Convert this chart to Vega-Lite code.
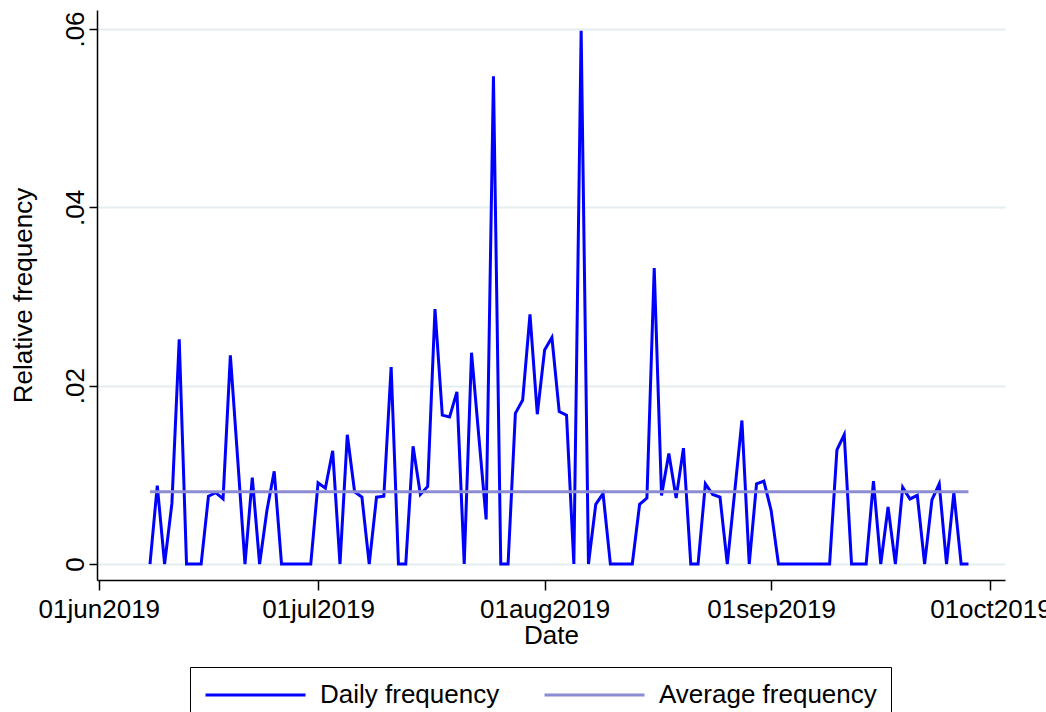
{
  "$schema": "https://vega.github.io/schema/vega-lite/v6.json",
  "width": 908,
  "height": 570,
  "autosize": "none",
  "padding": {"left": 97, "top": 10, "right": 41, "bottom": 132},
  "background": "white",
  "config": {"view": {"stroke": null}, "font": "Liberation Sans"},
  "data": {"values": [
    {"date": "2019-06-08", "value": 0, "series": "Daily frequency"},
    {"date": "2019-06-09", "value": 0.0088, "series": "Daily frequency"},
    {"date": "2019-06-10", "value": 0, "series": "Daily frequency"},
    {"date": "2019-06-11", "value": 0.0068, "series": "Daily frequency"},
    {"date": "2019-06-12", "value": 0.0252, "series": "Daily frequency"},
    {"date": "2019-06-13", "value": 0, "series": "Daily frequency"},
    {"date": "2019-06-14", "value": 0, "series": "Daily frequency"},
    {"date": "2019-06-15", "value": 0, "series": "Daily frequency"},
    {"date": "2019-06-16", "value": 0.0076, "series": "Daily frequency"},
    {"date": "2019-06-17", "value": 0.008, "series": "Daily frequency"},
    {"date": "2019-06-18", "value": 0.0073, "series": "Daily frequency"},
    {"date": "2019-06-19", "value": 0.0234, "series": "Daily frequency"},
    {"date": "2019-06-20", "value": 0.0118, "series": "Daily frequency"},
    {"date": "2019-06-21", "value": 0, "series": "Daily frequency"},
    {"date": "2019-06-22", "value": 0.0097, "series": "Daily frequency"},
    {"date": "2019-06-23", "value": 0, "series": "Daily frequency"},
    {"date": "2019-06-24", "value": 0.006, "series": "Daily frequency"},
    {"date": "2019-06-25", "value": 0.0104, "series": "Daily frequency"},
    {"date": "2019-06-26", "value": 0, "series": "Daily frequency"},
    {"date": "2019-06-27", "value": 0, "series": "Daily frequency"},
    {"date": "2019-06-28", "value": 0, "series": "Daily frequency"},
    {"date": "2019-06-29", "value": 0, "series": "Daily frequency"},
    {"date": "2019-06-30", "value": 0, "series": "Daily frequency"},
    {"date": "2019-07-01", "value": 0.0091, "series": "Daily frequency"},
    {"date": "2019-07-02", "value": 0.0085, "series": "Daily frequency"},
    {"date": "2019-07-03", "value": 0.0127, "series": "Daily frequency"},
    {"date": "2019-07-04", "value": 0, "series": "Daily frequency"},
    {"date": "2019-07-05", "value": 0.0145, "series": "Daily frequency"},
    {"date": "2019-07-06", "value": 0.0081, "series": "Daily frequency"},
    {"date": "2019-07-07", "value": 0.0075, "series": "Daily frequency"},
    {"date": "2019-07-08", "value": 0, "series": "Daily frequency"},
    {"date": "2019-07-09", "value": 0.0075, "series": "Daily frequency"},
    {"date": "2019-07-10", "value": 0.0076, "series": "Daily frequency"},
    {"date": "2019-07-11", "value": 0.0221, "series": "Daily frequency"},
    {"date": "2019-07-12", "value": 0, "series": "Daily frequency"},
    {"date": "2019-07-13", "value": 0, "series": "Daily frequency"},
    {"date": "2019-07-14", "value": 0.0132, "series": "Daily frequency"},
    {"date": "2019-07-15", "value": 0.0078, "series": "Daily frequency"},
    {"date": "2019-07-16", "value": 0.0087, "series": "Daily frequency"},
    {"date": "2019-07-17", "value": 0.0286, "series": "Daily frequency"},
    {"date": "2019-07-18", "value": 0.0167, "series": "Daily frequency"},
    {"date": "2019-07-19", "value": 0.0165, "series": "Daily frequency"},
    {"date": "2019-07-20", "value": 0.0193, "series": "Daily frequency"},
    {"date": "2019-07-21", "value": 0, "series": "Daily frequency"},
    {"date": "2019-07-22", "value": 0.0237, "series": "Daily frequency"},
    {"date": "2019-07-23", "value": 0.0143, "series": "Daily frequency"},
    {"date": "2019-07-24", "value": 0.005, "series": "Daily frequency"},
    {"date": "2019-07-25", "value": 0.0547, "series": "Daily frequency"},
    {"date": "2019-07-26", "value": 0, "series": "Daily frequency"},
    {"date": "2019-07-27", "value": 0, "series": "Daily frequency"},
    {"date": "2019-07-28", "value": 0.0169, "series": "Daily frequency"},
    {"date": "2019-07-29", "value": 0.0184, "series": "Daily frequency"},
    {"date": "2019-07-30", "value": 0.028, "series": "Daily frequency"},
    {"date": "2019-07-31", "value": 0.0168, "series": "Daily frequency"},
    {"date": "2019-08-01", "value": 0.024, "series": "Daily frequency"},
    {"date": "2019-08-02", "value": 0.0254, "series": "Daily frequency"},
    {"date": "2019-08-03", "value": 0.0171, "series": "Daily frequency"},
    {"date": "2019-08-04", "value": 0.0167, "series": "Daily frequency"},
    {"date": "2019-08-05", "value": 0, "series": "Daily frequency"},
    {"date": "2019-08-06", "value": 0.0598, "series": "Daily frequency"},
    {"date": "2019-08-07", "value": 0, "series": "Daily frequency"},
    {"date": "2019-08-08", "value": 0.0067, "series": "Daily frequency"},
    {"date": "2019-08-09", "value": 0.0079, "series": "Daily frequency"},
    {"date": "2019-08-10", "value": 0, "series": "Daily frequency"},
    {"date": "2019-08-11", "value": 0, "series": "Daily frequency"},
    {"date": "2019-08-12", "value": 0, "series": "Daily frequency"},
    {"date": "2019-08-13", "value": 0, "series": "Daily frequency"},
    {"date": "2019-08-14", "value": 0.0067, "series": "Daily frequency"},
    {"date": "2019-08-15", "value": 0.0074, "series": "Daily frequency"},
    {"date": "2019-08-16", "value": 0.0332, "series": "Daily frequency"},
    {"date": "2019-08-17", "value": 0.0077, "series": "Daily frequency"},
    {"date": "2019-08-18", "value": 0.0124, "series": "Daily frequency"},
    {"date": "2019-08-19", "value": 0.0074, "series": "Daily frequency"},
    {"date": "2019-08-20", "value": 0.013, "series": "Daily frequency"},
    {"date": "2019-08-21", "value": 0, "series": "Daily frequency"},
    {"date": "2019-08-22", "value": 0, "series": "Daily frequency"},
    {"date": "2019-08-23", "value": 0.009, "series": "Daily frequency"},
    {"date": "2019-08-24", "value": 0.0078, "series": "Daily frequency"},
    {"date": "2019-08-25", "value": 0.0075, "series": "Daily frequency"},
    {"date": "2019-08-26", "value": 0, "series": "Daily frequency"},
    {"date": "2019-08-27", "value": 0.008, "series": "Daily frequency"},
    {"date": "2019-08-28", "value": 0.0161, "series": "Daily frequency"},
    {"date": "2019-08-29", "value": 0, "series": "Daily frequency"},
    {"date": "2019-08-30", "value": 0.009, "series": "Daily frequency"},
    {"date": "2019-08-31", "value": 0.0093, "series": "Daily frequency"},
    {"date": "2019-09-01", "value": 0.006, "series": "Daily frequency"},
    {"date": "2019-09-02", "value": 0, "series": "Daily frequency"},
    {"date": "2019-09-03", "value": 0, "series": "Daily frequency"},
    {"date": "2019-09-04", "value": 0, "series": "Daily frequency"},
    {"date": "2019-09-05", "value": 0, "series": "Daily frequency"},
    {"date": "2019-09-06", "value": 0, "series": "Daily frequency"},
    {"date": "2019-09-07", "value": 0, "series": "Daily frequency"},
    {"date": "2019-09-08", "value": 0, "series": "Daily frequency"},
    {"date": "2019-09-09", "value": 0, "series": "Daily frequency"},
    {"date": "2019-09-10", "value": 0.0128, "series": "Daily frequency"},
    {"date": "2019-09-11", "value": 0.0145, "series": "Daily frequency"},
    {"date": "2019-09-12", "value": 0, "series": "Daily frequency"},
    {"date": "2019-09-13", "value": 0, "series": "Daily frequency"},
    {"date": "2019-09-14", "value": 0, "series": "Daily frequency"},
    {"date": "2019-09-15", "value": 0.0093, "series": "Daily frequency"},
    {"date": "2019-09-16", "value": 0, "series": "Daily frequency"},
    {"date": "2019-09-17", "value": 0.0064, "series": "Daily frequency"},
    {"date": "2019-09-18", "value": 0, "series": "Daily frequency"},
    {"date": "2019-09-19", "value": 0.0086, "series": "Daily frequency"},
    {"date": "2019-09-20", "value": 0.0073, "series": "Daily frequency"},
    {"date": "2019-09-21", "value": 0.0077, "series": "Daily frequency"},
    {"date": "2019-09-22", "value": 0, "series": "Daily frequency"},
    {"date": "2019-09-23", "value": 0.0072, "series": "Daily frequency"},
    {"date": "2019-09-24", "value": 0.009, "series": "Daily frequency"},
    {"date": "2019-09-25", "value": 0, "series": "Daily frequency"},
    {"date": "2019-09-26", "value": 0.008, "series": "Daily frequency"},
    {"date": "2019-09-27", "value": 0, "series": "Daily frequency"},
    {"date": "2019-09-28", "value": 0, "series": "Daily frequency"},
    {"date": "2019-06-08", "value": 0.0081, "series": "Average frequency"},
    {"date": "2019-09-28", "value": 0.0081, "series": "Average frequency"}
  ]},
  "mark": {"type": "line", "strokeWidth": 3, "strokeJoin": "miter", "clip": false},
  "encoding": {
    "x": {
      "field": "date",
      "type": "temporal",
      "scale": {
        "type": "utc",
        "domain": [
          {"year": 2019, "month": 5, "date": 31, "hours": 18, "utc": true},
          {"year": 2019, "month": 10, "date": 3, "utc": true}
        ]
      },
      "axis": {
        "title": "Date",
        "values": [
          {"year": 2019, "month": 6, "date": 1, "utc": true},
          {"year": 2019, "month": 7, "date": 1, "utc": true},
          {"year": 2019, "month": 8, "date": 1, "utc": true},
          {"year": 2019, "month": 9, "date": 1, "utc": true},
          {"year": 2019, "month": 10, "date": 1, "utc": true}
        ],
        "labelExpr": "lower(utcFormat(datum.value, '%d%b%Y'))",
        "labelFont": "Liberation Sans",
        "labelFontSize": 26,
        "labelColor": "black",
        "labelPadding": 6,
        "labelOverlap": false,
        "labelFlush": false,
        "grid": false,
        "domainColor": "black",
        "domainWidth": 1.5,
        "tickColor": "black",
        "tickWidth": 1.5,
        "tickSize": 10,
        "titleFont": "Liberation Sans",
        "titleFontSize": 26,
        "titleFontWeight": "normal",
        "titleColor": "black",
        "titlePadding": 0
      }
    },
    "y": {
      "field": "value",
      "type": "quantitative",
      "scale": {"domain": [-0.00179, 0.06213], "nice": false, "zero": false},
      "axis": {
        "title": "Relative frequency",
        "values": [0, 0.02, 0.04, 0.06],
        "labelExpr": "datum.value == 0 ? '0' : '.0' + round(datum.value * 100)",
        "labelAngle": -90,
        "labelFont": "Liberation Sans",
        "labelFontSize": 26,
        "labelColor": "black",
        "labelPadding": 1,
        "grid": true,
        "gridColor": "#e4eef0",
        "gridWidth": 2,
        "domainColor": "black",
        "domainWidth": 1.5,
        "tickColor": "black",
        "tickWidth": 1.5,
        "tickSize": 8,
        "titleFont": "Liberation Sans",
        "titleFontSize": 26,
        "titleFontWeight": "normal",
        "titleColor": "black",
        "titlePadding": 26
      }
    },
    "color": {
      "field": "series",
      "type": "nominal",
      "sort": ["Daily frequency", "Average frequency"],
      "scale": {"domain": ["Daily frequency", "Average frequency"], "range": ["#0000ff", "#8c8cd4"]},
      "legend": {
        "title": null,
        "orient": "none",
        "legendX": 93,
        "legendY": 657,
        "direction": "horizontal",
        "columns": 2,
        "symbolType": "M-1,0H7",
        "symbolSize": 625,
        "symbolStrokeWidth": 3,
        "labelFont": "Liberation Sans",
        "labelFontSize": 26,
        "labelColor": "black",
        "labelOffset": 88,
        "labelLimit": 0,
        "columnPadding": 38,
        "padding": 14,
        "strokeColor": "black",
        "fillColor": "white"
      }
    }
  }
}
